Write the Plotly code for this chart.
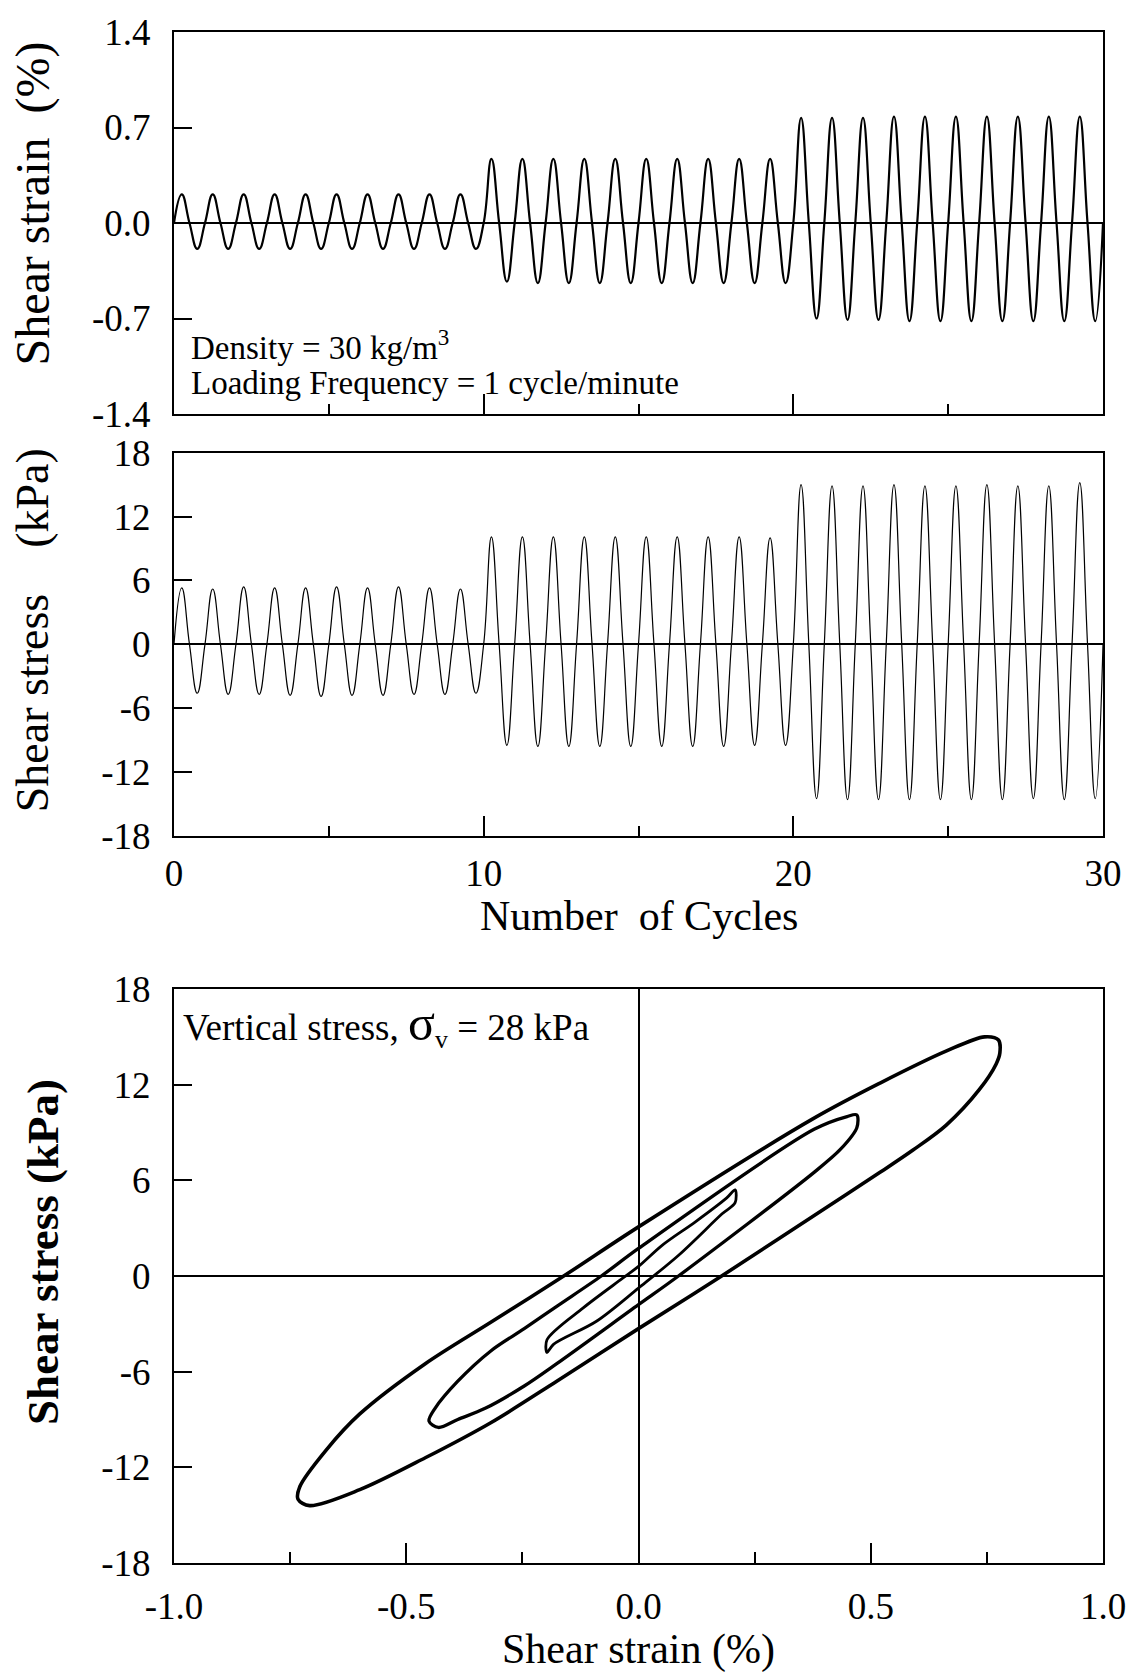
import plotly.graph_objects as go

# ---------------- data ----------------
cycles = list(range(30))

# per-cycle extreme values of shear strain (%)
strain_peaks = [0.21, 0.21, 0.21, 0.21, 0.21, 0.21, 0.21, 0.21, 0.21, 0.21,
                0.47, 0.47, 0.47, 0.47, 0.47, 0.47, 0.47, 0.47, 0.47, 0.47,
                0.77, 0.77, 0.77, 0.78, 0.78, 0.78, 0.78, 0.78, 0.78, 0.78]
strain_troughs = [-0.19, -0.19, -0.19, -0.19, -0.19, -0.19, -0.19, -0.19, -0.19, -0.19,
                  -0.43, -0.44, -0.44, -0.44, -0.44, -0.44, -0.44, -0.44, -0.44, -0.44,
                  -0.70, -0.71, -0.71, -0.72, -0.72, -0.72, -0.72, -0.72, -0.72, -0.72]

# per-cycle extreme values of shear stress (kPa)
stress_peaks = [5.3, 5.2, 5.4, 5.3, 5.3, 5.4, 5.3, 5.4, 5.3, 5.2,
                10.1, 10.1, 10.1, 10.1, 10.1, 10.1, 10.1, 10.1, 10.1, 10.0,
                15.0, 14.9, 14.9, 15.0, 14.9, 14.9, 15.0, 14.9, 14.9, 15.2]
stress_troughs = [-4.6, -4.7, -4.7, -4.8, -4.9, -4.8, -4.8, -4.7, -4.7, -4.6,
                  -9.5, -9.6, -9.6, -9.6, -9.6, -9.6, -9.6, -9.6, -9.5, -9.5,
                  -14.5, -14.6, -14.6, -14.6, -14.6, -14.6, -14.6, -14.5, -14.6, -14.5]

# hysteresis loops (shear strain %, shear stress kPa) read around each loop
large_loop_strain = [0.0, 0.378, 0.52, 0.662, 0.745, 0.775, 0.778, 0.77,
                     0.734, 0.662, 0.591, 0.52, 0.449, 0.179, 0.0, -0.176, -0.318, -0.459,
                     -0.60, -0.708, -0.733, -0.729, -0.672, -0.60, -0.459, -0.318,
                     -0.161, 0.0]
large_loop_stress = [3.08, 9.9, 12.1, 14.1, 15.0, 14.8, 14.0, 13.3,
                     11.7, 9.45, 7.9, 6.5, 5.15, 0.0, -3.3, -6.6, -9.2, -11.4,
                     -13.4, -14.4, -14.0, -13.2, -10.9, -8.65, -5.5, -2.9,
                     0.0, 3.08]

medium_loop_strain = [0.0, 0.378, 0.449, 0.47, 0.47, 0.435, 0.378, 0.086, 0.0, -0.176,
                      -0.246, -0.33, -0.389, -0.431, -0.451, -0.438, -0.389, -0.318, -0.246,
                      -0.176, -0.08, 0.0]
medium_loop_stress = [1.73, 9.2, 10.0, 10.1, 9.3, 7.95, 6.5, 0.0, -1.8, -5.5,
                      -6.9, -8.3, -9.0, -9.5, -9.1, -8.3, -6.6, -4.7, -3.3,
                      -1.9, 0.0, 1.73]

small_loop_strain = [0.0, 0.0515, 0.1225, 0.19, 0.208, 0.208, 0.18, 0.087, 0.0, -0.0905,
                     -0.183, -0.197, -0.197, -0.119, -0.034, 0.0]
small_loop_stress = [0.6, 1.94, 3.4, 4.9, 5.4, 4.6, 3.9, 1.32, -0.76, -2.84,
                     -4.29, -4.8, -4.0, -2.0, -0.14, 0.6]

# tick labels
x_cycle_ticks = [0, 10, 20, 30]
x_cycle_text = ["0", "10", "20", "30"]
x_cycle_minor = [5, 15, 25]
y_strain_ticks = [-1.4, -0.7, 0.0, 0.7, 1.4]
y_strain_text = ["-1.4", "-0.7", "0.0", "0.7", "1.4"]
y_stress_ticks = [-18, -12, -6, 0, 6, 12, 18]
y_stress_text = ["-18", "-12", "-6", "0", "6", "12", "18"]
x_loop_ticks = [-1.0, -0.5, 0.0, 0.5, 1.0]
x_loop_text = ["-1.0", "-0.5", "0.0", "0.5", "1.0"]
x_loop_minor = [-0.75, -0.25, 0.25, 0.75]

# ---------------- build the time series (quarter-cycle points) ----------------
t_series, strain_series, stress_series = [], [], []
for k in cycles:
    t_series += [k, k + 0.25, k + 0.5, k + 0.75]
    strain_series += [0.0, strain_peaks[k], 0.0, strain_troughs[k]]
    stress_series += [0.0, stress_peaks[k], 0.0, stress_troughs[k]]
t_series.append(len(cycles))
strain_series.append(0.0)
stress_series.append(0.0)

# ---------------- figure ----------------
W, H = 1138, 1676
L, R, T, B = 174, 26, 24, 113
PW, PH = W - L - R, H - T - B


def px_x(px):
    return (px - L) / PW


def px_y(py):
    return (H - B - py) / PH


FONT = "Liberation Serif, Times New Roman, serif"
BLACK = "black"

fig = go.Figure()
fig.add_trace(go.Scatter(x=t_series, y=strain_series, mode="lines",
                         line=dict(color=BLACK, width=2.2, shape="spline", smoothing=1.3),
                         xaxis="x", yaxis="y", hoverinfo="skip"))
fig.add_trace(go.Scatter(x=t_series, y=stress_series, mode="lines",
                         line=dict(color=BLACK, width=1.2, shape="spline", smoothing=1.3),
                         xaxis="x2", yaxis="y2", hoverinfo="skip"))
for xs, ys, w in [(large_loop_strain, large_loop_stress, 3.6),
                  (medium_loop_strain, medium_loop_stress, 3.3),
                  (small_loop_strain, small_loop_stress, 2.8)]:
    fig.add_trace(go.Scatter(x=xs, y=ys, mode="lines",
                             line=dict(color=BLACK, width=w, shape="spline", smoothing=0.9),
                             xaxis="x3", yaxis="y3", hoverinfo="skip"))

tickfont = dict(family=FONT, size=37, color=BLACK)
common = dict(showline=True, mirror=True, linecolor=BLACK, linewidth=2,
              showgrid=False, ticks="inside", tickcolor=BLACK, tickwidth=2,
              tickfont=tickfont, fixedrange=True)

d1 = [px_y(408), px_y(24)]
d2 = [px_y(832), px_y(447)]
d3 = [px_y(1563), px_y(986)]

fig.update_layout(
    width=W, height=H, margin=dict(l=L, r=R, t=T, b=B, pad=0),
    paper_bgcolor="white", plot_bgcolor="white", showlegend=False,
    font=dict(family=FONT, color=BLACK),
    xaxis=dict(common, domain=[0, 1], anchor="y", range=[0, 30],
               tickvals=x_cycle_ticks, ticklen=20, showticklabels=False, zeroline=False,
               minor=dict(tickvals=x_cycle_minor, ticklen=10, ticks="inside",
                          tickcolor=BLACK, tickwidth=2, showgrid=False)),
    yaxis=dict(common, domain=d1, anchor="x", range=[-1.4, 1.4],
               tickvals=y_strain_ticks, ticktext=y_strain_text, ticklen=18,
               zeroline=True, zerolinecolor=BLACK, zerolinewidth=2,
               ticklabelstandoff=14),
    xaxis2=dict(common, domain=[0, 1], anchor="y2", range=[0, 30],
                tickvals=x_cycle_ticks, ticktext=x_cycle_text, ticklen=20, zeroline=False,
                ticklabelstandoff=4,
                minor=dict(tickvals=x_cycle_minor, ticklen=10, ticks="inside",
                           tickcolor=BLACK, tickwidth=2, showgrid=False)),
    yaxis2=dict(common, domain=d2, anchor="x2", range=[-18, 18],
                tickvals=y_stress_ticks, ticktext=y_stress_text, ticklen=18,
                zeroline=True, zerolinecolor=BLACK, zerolinewidth=2,
                ticklabelstandoff=14),
    xaxis3=dict(common, domain=[0, 1], anchor="y3", range=[-1, 1],
                tickvals=x_loop_ticks, ticktext=x_loop_text, ticklen=20,
                zeroline=True, zerolinecolor=BLACK, zerolinewidth=1.5,
                ticklabelstandoff=10,
                minor=dict(tickvals=x_loop_minor, ticklen=11, ticks="inside",
                           tickcolor=BLACK, tickwidth=2, showgrid=False)),
    yaxis3=dict(common, domain=d3, anchor="x3", range=[-18, 18],
                tickvals=y_stress_ticks, ticktext=y_stress_text, ticklen=18,
                zeroline=True, zerolinecolor=BLACK, zerolinewidth=1.5,
                ticklabelstandoff=14),
)

NB = "\u00a0"
ann = []
ann.append(dict(text="Shear strain" + NB * 2 + "(%)", x=px_x(32), y=px_y(196), textangle=-90,
                font=dict(family=FONT, size=48, color=BLACK)))
ann.append(dict(text="Shear stress" + NB * 4 + "(kPa)", x=px_x(32), y=px_y(625), textangle=-90,
                font=dict(family=FONT, size=46, color=BLACK)))
ann.append(dict(text="Number" + NB * 2 + "of Cycles", x=px_x(643), y=px_y(913),
                font=dict(family=FONT, size=42, color=BLACK)))
ann.append(dict(text="<b>Shear stress (kPa)</b>", x=px_x(41), y=px_y(1250), textangle=-90,
                font=dict(family=FONT, size=45, color=BLACK)))
ann.append(dict(text="Shear strain (%)", x=px_x(643), y=px_y(1650),
                font=dict(family=FONT, size=42, color=BLACK)))
ann.append(dict(text="Density = 30 kg/m<sup>3</sup>", x=px_x(189), y=px_y(339), xanchor="left",
                font=dict(family=FONT, size=33, color=BLACK)))
ann.append(dict(text="Loading Frequency = 1 cycle/minute", x=px_x(189), y=px_y(377),
                xanchor="left", font=dict(family=FONT, size=33, color=BLACK)))
ann.append(dict(text="Vertical stress, <span style='font-size:50px'>σ</span><sub>v</sub> = 28 kPa",
                x=px_x(181), y=px_y(1022), xanchor="left",
                font=dict(family=FONT, size=37, color=BLACK)))
for a in ann:
    a.setdefault("xanchor", "center")
    a.update(xref="paper", yref="paper", yanchor="middle", showarrow=False)
fig.update_layout(annotations=ann)

fig.write_html("out.html")
